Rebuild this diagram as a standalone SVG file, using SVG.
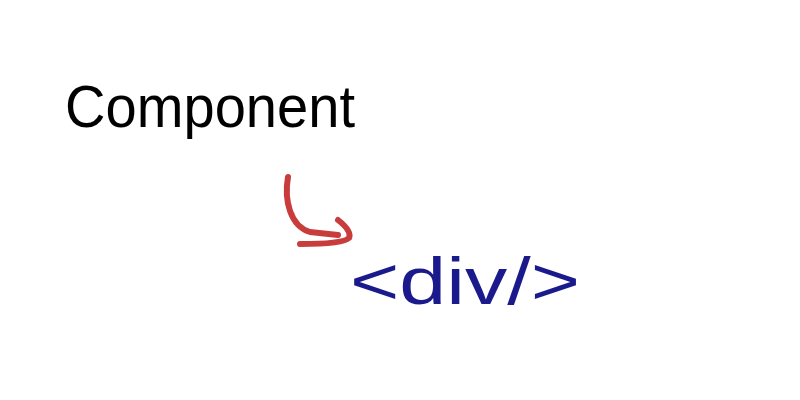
<svg xmlns="http://www.w3.org/2000/svg" width="800" height="400" viewBox="0 0 800 400">
<style>
.lbl{font-family:"Liberation Sans","DejaVu Sans",sans-serif;}
.conn{fill:none;stroke:#c83c3c;stroke-width:6;stroke-linecap:round;stroke-linejoin:round;}
</style>
<rect width="800" height="400" fill="#ffffff"/>
<g id="component">
<text class="lbl" x="65" y="127" font-size="60" fill="#000000" textLength="290" lengthAdjust="spacingAndGlyphs">Component</text>
</g>
<g id="div">
<text class="lbl" x="350" y="304" font-size="66" fill="#1a1a8c" textLength="230" lengthAdjust="spacingAndGlyphs">&lt;div/&gt;</text>
</g>
<g id="connectors">
<path class="conn" d="M288,177 C284,200 290,226 310,232 L338,235"/>
<path class="conn" d="M338,220 Q352,231 349,238 Q343,244 300,244"/>
</g>
</svg>
